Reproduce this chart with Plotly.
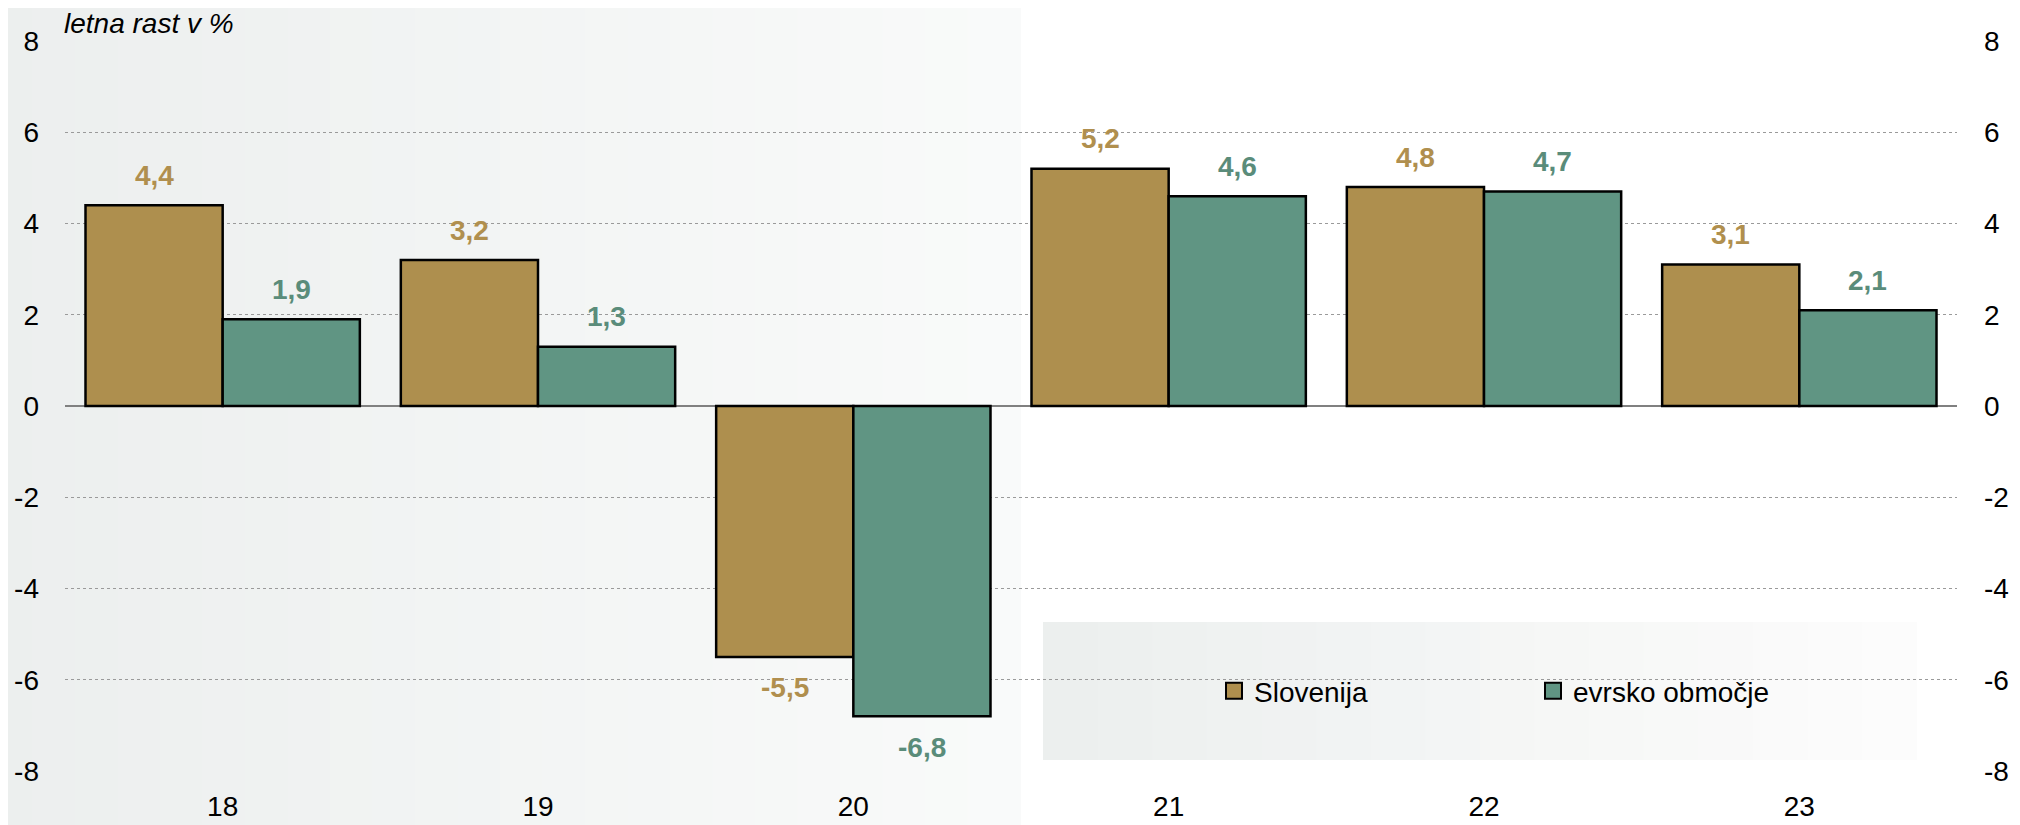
import plotly.graph_objects as go

years = ["18", "19", "20", "21", "22", "23"]
slovenija = [4.4, 3.2, -5.5, 5.2, 4.8, 3.1]
evro = [1.9, 1.3, -6.8, 4.6, 4.7, 2.1]
series_names = ["Slovenija", "evrsko območje"]
y_ticks = [-8, -6, -4, -2, 0, 2, 4, 6, 8]
y_title = "letna rast v %"

OFF = 8  # page body margin
W, H = 2020 - OFF, 825 - OFF
ML, MR, MT, MB = 65 - OFF, 63, 41 - OFF, 54
GOLD = "#ae8f4e"
GREEN = "#609583"
GOLD_TXT = "#b08f4e"
GREEN_TXT = "#5a8c7a"
FONT = "Liberation Sans, Arial, sans-serif"
FS = 28
BARGAP = 0.13

fig = go.Figure()
fig.add_trace(go.Bar(x=years, y=slovenija, name=series_names[0], marker=dict(color=GOLD, line=dict(color="black", width=2.5)), showlegend=False))
fig.add_trace(go.Bar(x=years, y=evro, name=series_names[1], marker=dict(color=GREEN, line=dict(color="black", width=2.5)), showlegend=False))
for nm, col in zip(series_names, [GOLD, GREEN]):
    fig.add_trace(go.Scatter(x=[None], y=[None], mode="markers", name=nm,
                             marker=dict(symbol="square", size=18, color=col, line=dict(color="black", width=2))))
fig.add_trace(go.Scatter(x=[years[0]], y=[0], yaxis="y2", mode="markers", marker=dict(opacity=0), showlegend=False, hoverinfo="skip"))

pw = W - ML - MR
ph = H - MT - MB
cat_w = pw / len(years)
bar_w = cat_w * (1 - BARGAP) / 2
def fmt(v):
    return ("%.1f" % v).replace(".", ",")
anns = []
for vals, sh, col in [(slovenija, -bar_w / 2, GOLD_TXT), (evro, bar_w / 2, GREEN_TXT)]:
    for i, v in enumerate(vals):
        anns.append(dict(x=i, y=v, xref="x", yref="y", text=fmt(v), showarrow=False,
                         xshift=sh, yshift=30 if v >= 0 else -31,
                         font=dict(family=FONT, size=FS, color=col, weight="bold")))
anns.append(dict(x=0, xref="paper", xanchor="left", y=1, yref="paper", yanchor="bottom", yshift=1, xshift=-2,
                 text="<i>" + y_title + "</i>", showarrow=False, borderpad=0,
                 font=dict(family=FONT, size=FS, color="black")))

def px_x(p):
    return (p - OFF - ML) / pw
def px_y(p):
    return (H - MB - (p - OFF)) / ph

shapes = []
n = 24
x0px, x1px = 0, 1020
c0, c1 = (236, 239, 238), (249, 250, 250)
for i in range(n):
    a = x0px + (x1px - x0px) * i / n
    b = x0px + (x1px - x0px) * (i + 1) / n + 1
    t = i / (n - 1)
    c = tuple(int(round(c0[k] + (c1[k] - c0[k]) * t)) for k in range(3))
    shapes.append(dict(type="rect", xref="paper", yref="paper",
                       x0=px_x(a - 10), x1=px_x(b), y0=-0.2, y1=1.2,
                       fillcolor="rgb(%d,%d,%d)" % c, line=dict(width=0), layer="below"))
lx0, lx1, ly0, ly1 = 1043, 1917, 622, 760
n2 = 16
c2 = (252, 252, 252)
for i in range(n2):
    a = lx0 + (lx1 - lx0) * i / n2
    b = lx0 + (lx1 - lx0) * (i + 1) / n2 + (1 if i < n2 - 1 else 0)
    t = i / (n2 - 1)
    c = tuple(int(round(c0[k] + (c2[k] - c0[k]) * t)) for k in range(3))
    shapes.append(dict(type="rect", xref="paper", yref="paper",
                       x0=px_x(a), x1=px_x(b), y0=px_y(ly1), y1=px_y(ly0),
                       fillcolor="rgb(%d,%d,%d)" % c, line=dict(width=0), layer="between"))

yax = dict(range=[-8, 8], tickvals=y_ticks, ticktext=[str(v) for v in y_ticks],
           tickfont=dict(family=FONT, size=28, color="black"),
           showline=False, ticks="", ticklen=0, fixedrange=True)

fig.update_layout(
    width=W, height=H, margin=dict(l=ML, r=MR, t=MT, b=MB, autoexpand=False),
    paper_bgcolor="white", plot_bgcolor="rgba(0,0,0,0)",
    barmode="group", bargap=BARGAP, bargroupgap=0,
    xaxis=dict(type="category", range=[-0.5, len(years) - 0.5],
               tickfont=dict(family=FONT, size=FS, color="black"),
               showgrid=False, showline=False, ticks="", zeroline=False, ticklabelstandoff=16),
    yaxis=dict(**yax, showgrid=True, gridcolor="#9a9a9a", griddash="dot", gridwidth=1,
               zeroline=True, zerolinecolor="#808080", zerolinewidth=1.5, ticklabelstandoff=25),
    yaxis2=dict(**yax, overlaying="y", side="right", showgrid=False, zeroline=False, ticklabelstandoff=26),
    legend=dict(orientation="h", x=px_x(1214), xanchor="left", y=px_y(691), yanchor="middle",
                bgcolor="rgba(0,0,0,0)", entrywidth=274, entrywidthmode="pixels",
                font=dict(family=FONT, size=FS, color="black"), itemwidth=30),
    annotations=anns, shapes=shapes,
)
fig.write_html("out.html")
